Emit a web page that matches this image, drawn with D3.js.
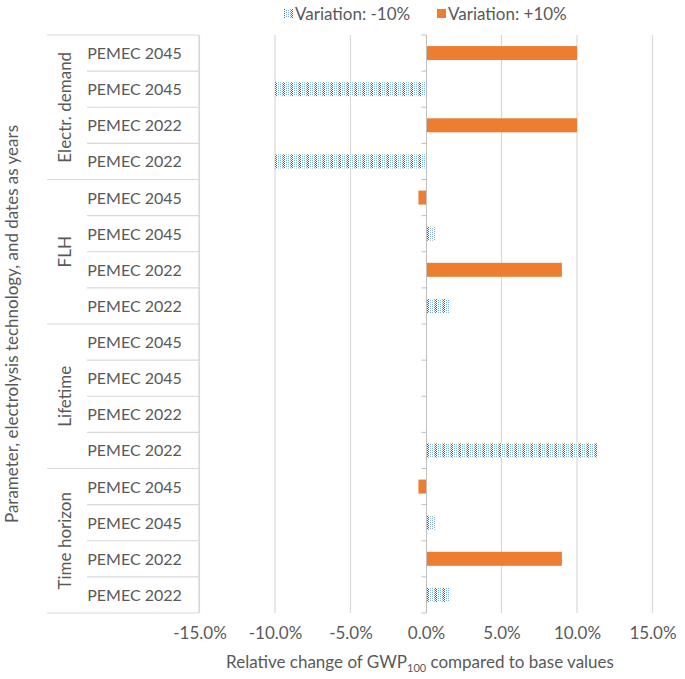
<!DOCTYPE html>
<html>
<head>
<meta charset="utf-8">
<script src="https://cdn.jsdelivr.net/npm/d3@7"></script>
<style>
  body { margin: 0; background: #fff; }
  text { font-family: Lato, "Open Sans", sans-serif; fill: #595959; }
</style>
</head>
<body>
<svg id="chart" width="685" height="679"></svg>
<script>
// --- data (top row first)
var groups = ['Electr. demand', 'FLH', 'Lifetime', 'Time horizon'];
var rowLabels = ['PEMEC 2045', 'PEMEC 2045', 'PEMEC 2022', 'PEMEC 2022'];
var minus10 = [0, -10.0, 0, -10.0,   0, 0.6, 0, 1.6,   0, 0, 0, 11.4,   0, 0.6, 0, 1.6];
var plus10  = [10.0, 0, 10.0, 0,   -0.5, 0, 9.0, 0,   0, 0, 0, 0,   -0.5, 0, 9.0, 0];
var xTicks = [-15, -10, -5, 0, 5, 10, 15];
var seriesNames = ['Variation: -10%', 'Variation: +10%'];

var svg = d3.select('#chart');
var plotT = 35, plotB = 613, plotL = 199.5, plotR = 652.5;

//one row per category, group + label
var rows = [];
groups.forEach(function(g, gi) {
  rowLabels.forEach(function(l, li) {
    rows.push({ id: gi * 4 + li, group: g, label: l });
  });
});

var x = d3.scaleLinear().domain([-15, 15]).range([plotL, plotR]);
var y = d3.scaleBand().domain(rows.map(function(d) { return d.id; })).range([plotT, plotB]);

//dotted fill like the excel pattern
var defs = svg.append('defs');
var pat = defs.append('pattern').attr('id', 'dots')
  .attr('patternUnits', 'userSpaceOnUse').attr('width', 8).attr('height', 4);
pat.append('rect').attr('width', 8).attr('height', 4).attr('fill', '#fff');
[[0,0],[0,2],[2,1],[2,3],[3,0],[3,2],[4,1],[4,3],[6,0],[6,2]].forEach(function(p) {
  pat.append('rect').attr('x', p[0]).attr('y', p[1]).attr('width', 1).attr('height', 1)
    .attr('fill', (p[0] == 3 || p[0] == 4) ? '#2e75b6' : '#7fb0dc');
});

//gridlines
svg.append('g').selectAll('line')
  .data(xTicks.filter(function(t) { return t != 0; }))
  .enter().append('line')
  .attr('x1', function(d) { return x(d); }).attr('x2', function(d) { return x(d); })
  .attr('y1', plotT).attr('y2', plotB)
  .attr('stroke', '#d9d9d9').attr('stroke-width', 1.2);

//bars
var bh = 14;
function bars(vals, fill) {
  svg.append('g').selectAll('rect')
    .data(rows)
    .enter().append('rect')
    .attr('x', function(d) { return x(Math.min(0, vals[d.id])); })
    .attr('width', function(d) { return Math.abs(x(vals[d.id]) - x(0)); })
    .attr('y', function(d) { return y(d.id) + (y.bandwidth() - bh) / 2; })
    .attr('height', bh)
    .attr('fill', fill);
}
bars(minus10, 'url(#dots)');
bars(plus10, '#ed7d31');

//category axis at zero with ticks to the left
var zx = Math.round(x(0)) + 0.5;
svg.append('line').attr('x1', zx).attr('x2', zx).attr('y1', plotT).attr('y2', plotB)
  .attr('stroke', '#bfbfbf');
svg.append('g').selectAll('line')
  .data(d3.range(rows.length + 1))
  .enter().append('line')
  .attr('x1', zx - 5).attr('x2', zx)
  .attr('y1', function(i) { return plotT + i * y.step(); })
  .attr('y2', function(i) { return plotT + i * y.step(); })
  .attr('stroke', '#bfbfbf');

//left table of labels
var tbl = svg.append('g');
var gL = 47, rL = 87, tR = 199;
tbl.selectAll('line.row')
  .data(d3.range(rows.length + 1))
  .enter().append('line')
  .attr('x1', function(i) { return i % 4 == 0 ? gL : rL; })
  .attr('x2', tR)
  .attr('y1', function(i) { return plotT + i * y.step(); })
  .attr('y2', function(i) { return plotT + i * y.step(); })
  .attr('stroke', '#d9d9d9').attr('stroke-width', 1.2);
tbl.append('line').attr('x1', tR).attr('x2', tR).attr('y1', plotT).attr('y2', plotB)
  .attr('stroke', '#d9d9d9').attr('stroke-width', 1.2);

tbl.selectAll('text.lab')
  .data(rows)
  .enter().append('text')
  .attr('x', 134.5).attr('y', function(d) { return y(d.id) + y.bandwidth() / 2 + 6; })
  .attr('text-anchor', 'middle').attr('font-size', 16)
  .text(function(d) { return d.label; });

tbl.selectAll('text.grp')
  .data(groups)
  .enter().append('text')
  .attr('transform', function(d, i) {
    return 'translate(71,' + (plotT + (i * 4 + 2) * y.step()) + ') rotate(-90)';
  })
  .attr('text-anchor', 'middle').attr('font-size', 17)
  .text(function(d) { return d; });

svg.append('text')
  .attr('transform', 'translate(18,' + ((plotT + plotB) / 2) + ') rotate(-90)')
  .attr('text-anchor', 'middle').attr('font-size', 17)
  .text('Parameter, electrolysis technology, and dates as years');

//x axis labels
var xAxis = d3.axisBottom(x).tickValues(xTicks).tickSize(0)
  .tickFormat(function(d) { return d.toFixed(1) + '%'; });
var gx = svg.append('g').attr('transform', 'translate(0,' + (plotB + 11) + ')').call(xAxis);
gx.select('.domain').remove();
gx.selectAll('text').attr('font-size', 17).attr('fill', '#595959')
  .style('font-family', 'Lato, "Open Sans", sans-serif');

var xt = svg.append('text').attr('x', 420).attr('y', 668)
  .attr('text-anchor', 'middle').attr('font-size', 17);
xt.append('tspan').text('Relative change of GWP');
xt.append('tspan').attr('font-size', 11).attr('dy', 4).text('100');
xt.append('tspan').attr('dy', -4).text(' compared to base values');

//legend
var leg = svg.append('g');
var lx = [284, 437];
leg.selectAll('rect')
  .data(seriesNames)
  .enter().append('rect')
  .attr('x', function(d, i) { return lx[i]; }).attr('y', 9)
  .attr('width', 9).attr('height', 9)
  .attr('fill', function(d, i) { return i == 0 ? 'url(#dots)' : '#ed7d31'; });
leg.selectAll('text')
  .data(seriesNames)
  .enter().append('text')
  .attr('x', function(d, i) { return lx[i] + 11; }).attr('y', 20)
  .attr('font-size', 17)
  .text(function(d) { return d; });
</script>
</body>
</html>
